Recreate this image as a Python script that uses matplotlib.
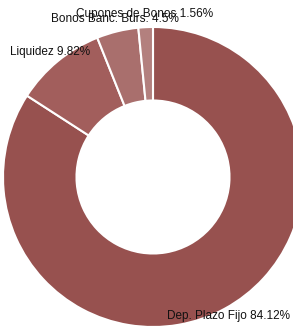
import matplotlib
matplotlib.use("Agg")
import matplotlib.pyplot as plt

plt.rcParams['font.family'] = ['Liberation Sans', 'DejaVu Sans']

labels = ['Dep. Plazo Fijo', 'Liquidez', 'Bonos Banc. Burs.', 'Cupones de Bonos']
values = [84.12, 9.82, 4.5, 1.56]
value_text = ['84.12%', '9.82%', '4.5%', '1.56%']
colors = ['#97514f', '#a25e5c', '#a96f6d', '#b3807e']

fig = plt.figure(figsize=(2.93, 3.27), dpi=100)
ax = fig.add_axes([0, 0, 1, 1])

ax.pie(values, colors=colors, startangle=90, counterclock=False, radius=1,
       wedgeprops=dict(width=0.49, edgecolor='white', linewidth=1.5))

R = 150.0
ax.set_aspect('auto')
ax.set_xlim(-153 / R, (293 - 153) / R)
ax.set_ylim(-150 / R, 177 / R)
ax.axis('off')

# label anchors (left edge, vertical centre) in axes data units
label_pos = [(0.093, -0.927), (-0.953, 0.833), (-0.68, 1.053), (-0.513, 1.085)]
for name, txt, (x, y) in zip(labels, value_text, label_pos):
    ax.text(x, y, f'{name} {txt}', ha='left', va='center', fontsize=8.5, color='#111111')

fig.savefig('out.png', dpi=100)
